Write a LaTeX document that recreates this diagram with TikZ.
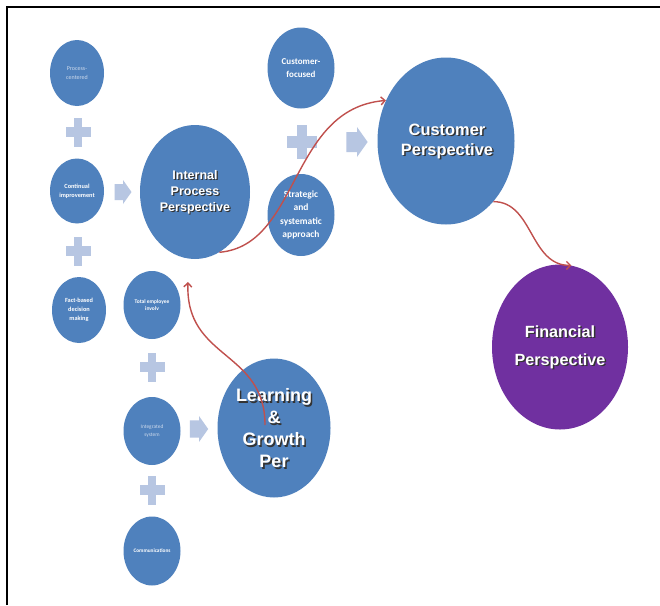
\documentclass[tikz,border=0pt]{standalone}
\usepackage{fontspec}
\usepackage{tikz}
\usetikzlibrary{shapes.geometric,arrows.meta}
\newfontfamily\headfont{Liberation Sans}
\newfontfamily\smallfont{Carlito}
\definecolor{ovalblue}{RGB}{79,129,189}
\definecolor{ovalpurple}{RGB}{112,48,160}
\definecolor{signblue}{RGB}{183,198,226}
\definecolor{linkred}{RGB}{192,80,77}
\definecolor{paletext}{RGB}{205,218,236}

\tikzset{
  oval/.style={ellipse, fill=ovalblue, inner sep=0pt, text=white, align=center},
  headtxt/.style={align=center, inner sep=0pt},
  link/.style={draw=linkred, line width=1.4pt, -{Straight Barb[length=4pt,width=8pt]}}
}

\begin{document}
\begin{tikzpicture}[x=1pt,y=-1pt]
  % page and the two frame edges
  \fill[white] (0,0) rectangle (660,605);
  \useasboundingbox (0,0) rectangle (660,605);
  \draw[line width=1.7pt] (6.8,605) -- (6.8,6.8) -- (660,6.8);

  % plus signs between the small ovals
  \foreach \px/\py/\s in {78/132/1, 78/251/1, 302/142/1.2, 152/367/1, 152/490/1} {
    \fill[signblue] (\px-12.5*\s,\py-5*\s) rectangle (\px+12.5*\s,\py+5*\s);
    \fill[signblue] (\px-4.25*\s,\py-14.5*\s) rectangle (\px+4.25*\s,\py+14.5*\s);
  }

  % block arrows pointing to the perspectives
  \foreach \ax/\ay/\s in {123/192/1, 357/142/1.25, 199/429/1.08} {
    \fill[signblue] (\ax-8.5*\s,\ay-8*\s) -- (\ax,\ay-8*\s) -- (\ax,\ay-12*\s)
      -- (\ax+8.5*\s,\ay) -- (\ax,\ay+12*\s) -- (\ax,\ay+8*\s)
      -- (\ax-8.5*\s,\ay+8*\s) -- cycle;
  }

  % left column
  \node[oval, minimum width=54pt, minimum height=66pt, text=paletext,
        font=\smallfont\fontsize{6}{9.3}\selectfont] (proc) at (77,73) {Process-\\centered};
  \node[oval, minimum width=54pt, minimum height=65pt,
        font=\smallfont\bfseries\fontsize{6.3}{8.7}\selectfont] (cont) at (77,191) {Continual\\improvement};
  \node[oval, minimum width=54pt, minimum height=66pt,
        font=\smallfont\bfseries\fontsize{6.3}{8.8}\selectfont] (fact) at (79,310) {Fact-based\\decision\\making};

  % second column
  \node[oval, minimum width=57pt, minimum height=68pt,
        font=\smallfont\bfseries\fontsize{5.5}{6.7}\selectfont] (emp) at (152,305) {Total employee\\involv};
  \node[oval, minimum width=57pt, minimum height=68pt, text=paletext,
        font=\smallfont\fontsize{5.4}{7.7}\selectfont] (integ) at (152,431) {Integrated\\system};
  \node[oval, minimum width=57pt, minimum height=69pt,
        font=\smallfont\bfseries\fontsize{5.3}{7}\selectfont] (comm) at (152,551) {Communications};

  % customer column
  \node[oval, minimum width=67pt, minimum height=81pt,
        font=\smallfont\bfseries\fontsize{9}{12.7}\selectfont] (custf) at (301,68) {Customer-\\focused};
  \node[oval, minimum width=67pt, minimum height=82pt,
        font=\smallfont\bfseries\fontsize{9.5}{13.3}\selectfont] (strat) at (301,215) {Strategic\\and\\systematic\\approach};

  % the four perspectives, white text over a dark drop shadow
  \node[oval, minimum width=110pt, minimum height=134pt] (ipp) at (195,192) {};
  \node[headtxt, text=black!80, font=\headfont\bfseries\fontsize{12.5}{16}\selectfont] (ipp-sh) at (196.2,193.2) {Internal\\Process\\Perspective};
  \node[headtxt, text=white, font=\headfont\bfseries\fontsize{12.5}{16}\selectfont] (ipp-txt) at (195,192) {Internal\\Process\\Perspective};

  \node[oval, minimum width=137pt, minimum height=167pt] (cp) at (446,141) {};
  \node[headtxt, text=black!80, font=\headfont\bfseries\fontsize{16.4}{20}\selectfont] (cp-sh) at (448.5,142.5) {Customer\\Perspective};
  \node[headtxt, text=white, font=\headfont\bfseries\fontsize{16.4}{20}\selectfont] (cp-txt) at (447,141) {Customer\\Perspective};

  \node[oval, fill=ovalpurple, minimum width=136pt, minimum height=165pt] (fin) at (560,347) {};
  \node[headtxt, text=black!80, font=\headfont\bfseries\fontsize{16.2}{28}\selectfont] (fin-sh) at (561.5,348.5) {Financial\\Perspective};
  \node[headtxt, text=white, font=\headfont\bfseries\fontsize{16.2}{28}\selectfont] (fin-txt) at (560,347) {Financial\\Perspective};

  \node[oval, minimum width=113pt, minimum height=139pt] (lg) at (274,428) {};
  \node[headtxt, text=black!80, font=\headfont\bfseries\fontsize{18}{22}\selectfont] (lg-sh) at (275.6,429.6) {Learning\\\&\\Growth\\Per};
  \node[headtxt, text=white, font=\headfont\bfseries\fontsize{18}{22}\selectfont] (lg-txt) at (274,428) {Learning\\\&\\Growth\\Per};

  % red links between the perspectives
  \coordinate (lg-start) at (265,425);
  \coordinate (ipp-below) at (188,282);
  \draw[link] (ipp.-68) .. controls +(81,-7) and +(-97,8) .. (cp.146);
  \draw[link] (cp.-52) .. controls +(40,0) and +(-42,0) .. (fin.82);
  \draw[link] (lg-start) .. controls +(0,-75) and +(-3,78) .. (ipp-below);
\end{tikzpicture}
\end{document}
